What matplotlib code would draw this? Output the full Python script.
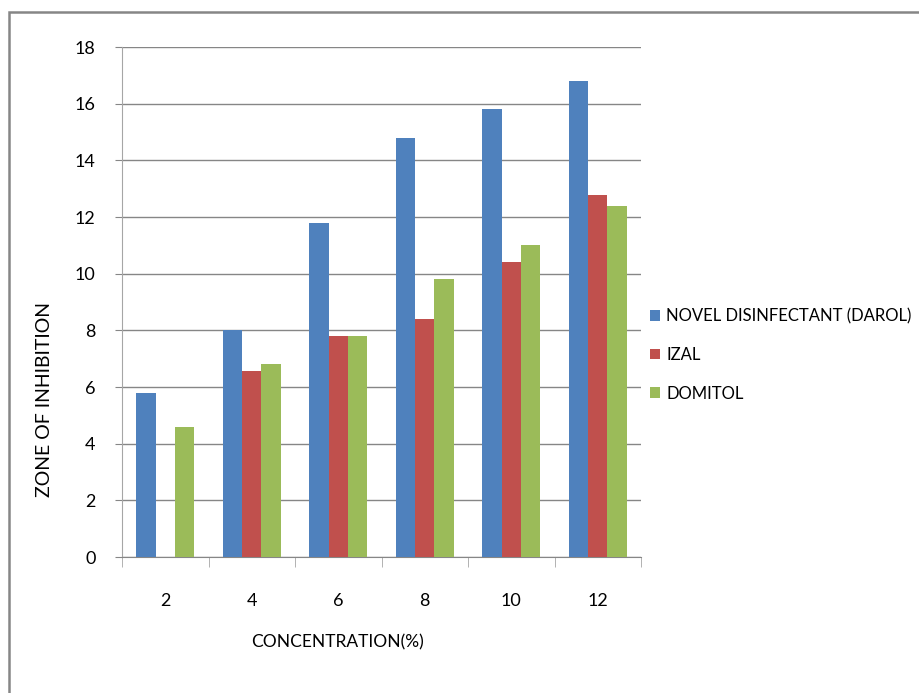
import numpy as np
import matplotlib
matplotlib.use('Agg')
import matplotlib.pyplot as plt
from matplotlib.patches import Rectangle

plt.rcParams['font.family'] = ['Lato', 'DejaVu Sans']

concentrations = ['2', '4', '6', '8', '10', '12']
series_names = ['NOVEL DISINFECTANT (DAROL)', 'IZAL', 'DOMITOL']
darol = [5.8, 8.0, 11.8, 14.8, 15.8, 16.8]
izal = [0, 6.55, 7.8, 8.4, 10.4, 12.78]
domitol = [4.6, 6.8, 7.8, 9.8, 11.0, 12.4]
colors = ['#4F81BD', '#C0504D', '#9BBB59']

W, H = 920, 693
fig = plt.figure(figsize=(W / 100, H / 100), dpi=100)

# outer chart border (only top/left fall inside the canvas)
fig.patches.append(Rectangle((9 / W, -0.05), 1.1, 1 - 12 / H + 0.05, transform=fig.transFigure,
                             fill=False, edgecolor='#868686', linewidth=1.8))

ax = fig.add_axes([122 / W, 1 - 557 / H, (641 - 122) / W, (557 - 47) / H])

x = np.arange(len(concentrations))
bw = 1 / 4.5
for i, (vals, name) in enumerate(zip([darol, izal, domitol], series_names)):
    ax.bar(x + (i - 1) * bw, vals, width=bw, color=colors[i], label=name, zorder=3)

ax.set_xlim(-0.5, len(concentrations) - 0.5)
ax.set_ylim(0, 18)
ax.set_yticks(range(0, 19, 2))
ax.grid(axis='y', color='#868686', linewidth=1.0, zorder=0)

for s in ['top', 'right']:
    ax.spines[s].set_visible(False)
ax.spines['left'].set_color('#A6A6A6')
ax.spines['bottom'].set_color('#868686')

ax.set_xticks(x)
ax.set_xticklabels(concentrations)
ax.set_xticks(np.arange(-0.5, len(concentrations)), minor=True)
ax.tick_params(axis='x', which='major', length=0, pad=26, labelsize=13, colors='#000000')
ax.tick_params(axis='x', which='minor', length=7, color='#A6A6A6', direction='out')
ax.tick_params(axis='y', length=5, color='#868686', pad=14, labelsize=13)

fig.text(45 / W, 1 - 400 / H, 'ZONE OF INHIBITION', rotation=90, ha='center', va='center', fontsize=14)
fig.text(338 / W, 1 - 642 / H, 'CONCENTRATION(%)', ha='center', va='center', fontsize=12.5)

leg = ax.legend(loc='center left', bbox_to_anchor=(643 / W, 1 - 355 / H), bbox_transform=fig.transFigure,
                frameon=False, fontsize=12, handlelength=0.6, handleheight=0.6, handletextpad=0.4,
                labelspacing=1.35, borderaxespad=0)

fig.savefig('out.png', dpi=100, facecolor='white')
